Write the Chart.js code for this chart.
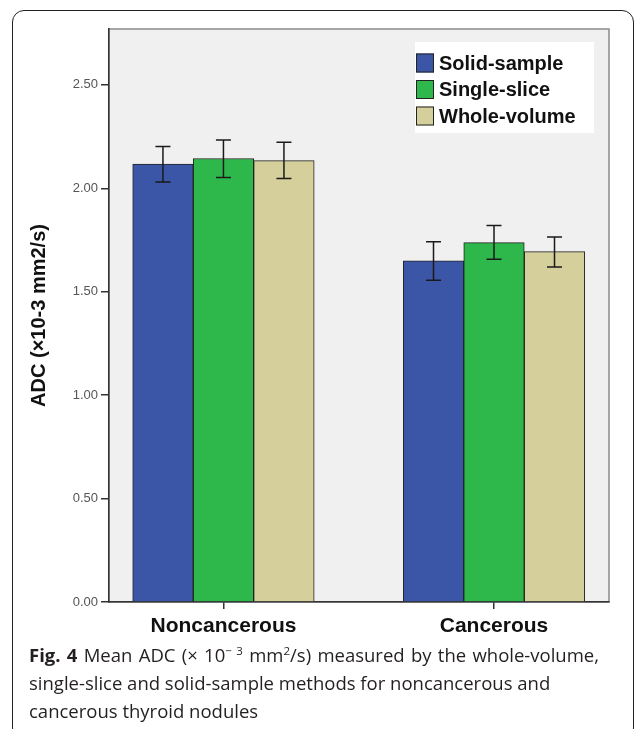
<!DOCTYPE html>
<html>
<head>
<meta charset="utf-8">
<script src="https://cdn.jsdelivr.net/npm/chart.js@4/dist/chart.umd.min.js"></script>
<style>
  body { margin: 0; background: #fff; }
  #wrap { position: relative; width: 635px; height: 729px; overflow: hidden; }
  #frame {
    position: absolute; left: 12px; top: 10px; width: 620px; height: 728px;
    border: 1.5px solid #222; border-radius: 12px;
  }
  canvas { position: absolute; left: 0; top: 0; }
  #caption {
    position: absolute; left: 29px; top: 641px; width: 604px;
    font-family: "Open Sans", sans-serif; font-size: 18.5px; line-height: 28px; color: #231f20;
    white-space: nowrap;
  }
  #caption .l1 { word-spacing: 1.5px; }
  #caption b { font-weight: 700; }
  sup { font-size: 11.5px; line-height: 0; }
</style>
</head>
<body>
<div id="wrap">
  <div id="frame"></div>
  <canvas id="myChart" width="635" height="645"></canvas>
  <div id="caption"><span class="l1"><b>Fig. 4</b> Mean ADC (× 10<sup>− 3</sup> mm<sup>2</sup>/s) measured by the whole-volume,</span><br>single-slice and solid-sample methods for noncancerous and<br>cancerous thyroid nodules</div>
</div>
<script>
const categories = ['Noncancerous', 'Cancerous'];
const seriesNames = ['Solid-sample', 'Single-slice', 'Whole-volume'];

const solidMean = [2.117, 1.649];
const singleMean = [2.144, 1.737];
const wholeMean = [2.134, 1.694];

const solidLow = [2.030, 1.556];
const solidHigh = [2.202, 1.742];
const singleLow = [2.052, 1.657];
const singleHigh = [2.234, 1.820];
const wholeLow = [2.047, 1.620];
const wholeHigh = [2.223, 1.764];

const yTicks = [0, 0.5, 1.0, 1.5, 2.0, 2.5];

const colors = ['#3c56a7', '#2eb84b', '#d4cf9b'];

function points(values) {
  return values.map((v, i) => ({ x: i, y: v }));
}

const errors = [
  { low: solidLow, high: solidHigh },
  { low: singleLow, high: singleHigh },
  { low: wholeLow, high: wholeHigh }
];

// plot background and grey top/right frame
const plotFrame = {
  id: 'plotFrame',
  beforeDraw(chart) {
    const { ctx, chartArea: a } = chart;
    ctx.save();
    ctx.fillStyle = '#f0f0f0';
    ctx.fillRect(a.left, a.top, a.right - a.left, a.bottom - a.top);
    ctx.strokeStyle = '#8a8a8a';
    ctx.lineWidth = 1.5;
    ctx.strokeRect(a.left, a.top, a.right - a.left, a.bottom - a.top);
    ctx.restore();
  }
};

const errorBars = {
  id: 'errorBars',
  afterDatasetsDraw(chart) {
    const { ctx } = chart;
    const y = chart.scales.y;
    ctx.save();
    ctx.strokeStyle = '#1a1a1a';
    ctx.lineWidth = 1.5;
    chart.data.datasets.forEach((ds, d) => {
      const meta = chart.getDatasetMeta(d);
      meta.data.forEach((bar, i) => {
        const x = bar.x;
        const top = y.getPixelForValue(errors[d].high[i]);
        const bot = y.getPixelForValue(errors[d].low[i]);
        ctx.beginPath();
        ctx.moveTo(x, top); ctx.lineTo(x, bot);
        ctx.moveTo(x - 7.5, top); ctx.lineTo(x + 7.5, top);
        ctx.moveTo(x - 7.5, bot); ctx.lineTo(x + 7.5, bot);
        ctx.stroke();
      });
    });
    ctx.restore();
  }
};

const boxLegend = {
  id: 'boxLegend',
  afterDraw(chart) {
    const { ctx, chartArea: a } = chart;
    const w = 179, h = 91;
    const x0 = a.right - 15 - w, y0 = a.top + 13;
    ctx.save();
    ctx.fillStyle = '#ffffff';
    ctx.fillRect(x0, y0, w, h);
    ctx.font = 'bold 20px "Liberation Sans", Arial, sans-serif';
    ctx.textBaseline = 'middle';
    chart.data.datasets.forEach((ds, i) => {
      const cy = y0 + 21 + i * 26.5;
      ctx.fillStyle = ds.backgroundColor;
      ctx.fillRect(x0 + 1, cy - 9.5, 18, 19);
      ctx.strokeStyle = '#222';
      ctx.lineWidth = 1;
      ctx.strokeRect(x0 + 1.5, cy - 9, 17, 18);
      ctx.fillStyle = '#111';
      ctx.fillText(ds.label, x0 + 24, cy + 1);
    });
    ctx.restore();
  }
};

const ctx = document.getElementById('myChart');

new Chart(ctx, {
  type: 'bar',
  data: {
    datasets: [
      { label: seriesNames[0], data: points(solidMean), backgroundColor: colors[0] },
      { label: seriesNames[1], data: points(singleMean), backgroundColor: colors[1] },
      { label: seriesNames[2], data: points(wholeMean), backgroundColor: colors[2] }
    ].map(ds => Object.assign(ds, { borderColor: '#222', borderWidth: 1, barThickness: 60.5 }))
  },
  options: {
    responsive: false,
    animation: false,
    layout: { padding: { left: 0, top: 29, right: 26, bottom: 0 } },
    plugins: {
      legend: { display: false },
      tooltip: { enabled: false }
    },
    scales: {
      x: {
        type: 'linear',
        offset: false,
        min: -0.423,
        max: 1.425,
        afterBuildTicks: s => { s.ticks = categories.map((c, i) => ({ value: i })); },
        afterFit: s => { s.height = 43; },
        grid: { offset: false, drawOnChartArea: false, tickLength: 7, color: '#333', lineWidth: 1.5 },
        border: { color: '#333', width: 1.5 },
        ticks: {
          padding: 5,
          color: '#111',
          font: { family: '"Liberation Sans", Arial, sans-serif', size: 21, weight: 'bold' },
          callback: v => categories[v]
        }
      },
      y: {
        min: 0,
        max: 2.77,
        afterBuildTicks: s => { s.ticks = yTicks.map(v => ({ value: v })); },
        afterFit: s => { s.width = 109; },
        grid: { drawOnChartArea: false, tickLength: 8, color: '#333', lineWidth: 1.5 },
        border: { color: '#333', width: 1.5 },
        ticks: {
          padding: 3,
          color: '#555',
          font: { family: '"Liberation Sans", Arial, sans-serif', size: 13 },
          callback: v => v.toFixed(2)
        },
        title: {
          display: true,
          text: 'ADC (×10-3 mm2/s)',
          color: '#111',
          padding: { top: 27, bottom: 0 },
          font: { family: '"Liberation Sans", Arial, sans-serif', size: 20, weight: 'bold' }
        }
      }
    }
  },
  plugins: [plotFrame, errorBars, boxLegend]
});
</script>
</body>
</html>
